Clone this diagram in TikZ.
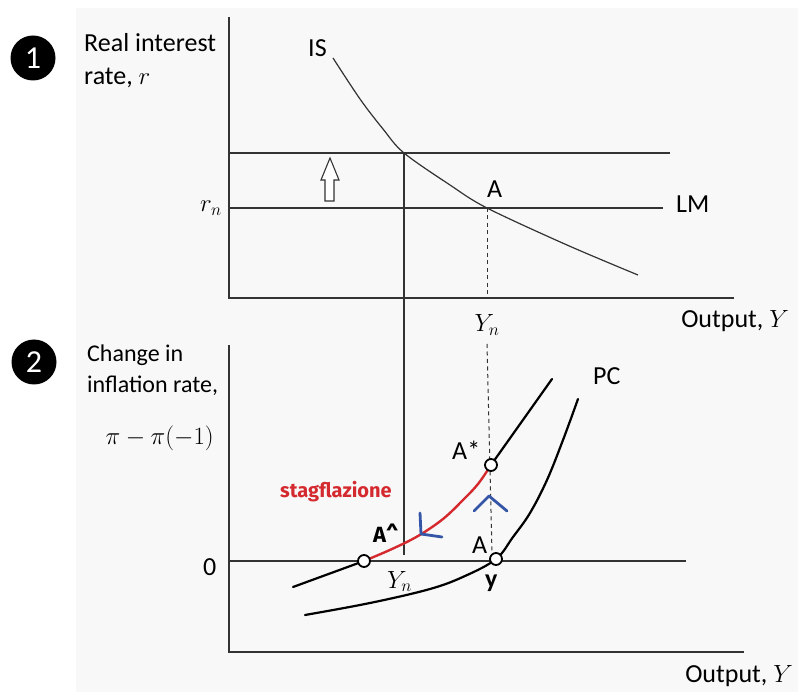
\documentclass[tikz,border=0pt]{standalone}
\usepackage{fontspec}
\setmainfont{Carlito}
\newfontfamily\stagfont{Fira Sans}
\definecolor{bggray}{HTML}{F8F8F8}
\definecolor{stagred}{HTML}{D42A2F}
\definecolor{bluech}{HTML}{3556A6}
\definecolor{linegray}{HTML}{333333}
\begin{document}
\begin{tikzpicture}[x=1pt,y=-1pt,
  ax/.style={line width=1.2pt, draw=linegray},
  thin/.style={line width=1.2pt, draw=linegray},
  pc/.style={line width=2.2pt, line cap=round},
  redpc/.style={line width=2.4pt, draw=stagred, line cap=round},
  dsh/.style={line width=1.0pt, draw=linegray, dash pattern=on 4pt off 3.5pt},
  lbl/.style={font=\fontsize{24}{28}\selectfont, inner sep=0pt},
  biglbl/.style={font=\fontsize{26}{30}\selectfont, inner sep=0pt},
  mlbl/.style={font=\fontsize{24}{28}\selectfont, inner sep=0pt},
  dot/.style={circle, draw, fill=white, line width=1.8pt, minimum size=12pt, inner sep=0pt},
  chev/.style={draw=bluech, line width=2.8pt, line cap=round, line join=round},
  numc/.style={circle, fill=black, minimum size=45pt, inner sep=0pt, text=white, font=\fontsize{32}{34}\selectfont}
]
\useasboundingbox (0,0) rectangle (798,692);
\fill[white] (0,0) rectangle (798,692);
\fill[bggray] (76,8) rectangle (798,692);

% numbered markers
\node[numc] (n1) at (33,58) {1};
\node[numc] (n2) at (34,362) {2};

% ---------- top panel ----------
\coordinate (ty) at (229,17);
\coordinate (to) at (229,298);
\coordinate (tx) at (734,298);
\draw[ax] (ty) -- (to) -- (tx);

\node[biglbl, anchor=base west] (rl1) at (84,52) {Real interest};
\node[biglbl, anchor=base west] (rl2) at (84,85) {rate, $r$};

\coordinate (h1l) at (229,153);
\coordinate (h1r) at (670,153);
\draw[thin] (h1l) -- (h1r);
\coordinate (lml) at (229,208);
\coordinate (lmr) at (663,208);
\draw[thin] (lml) -- (lmr);
\node[biglbl, anchor=base west] (lmlab) at (676,213) {LM};
\node[font=\fontsize{26}{30}\selectfont, inner sep=0pt] (rn) at (211,208) {$r_n$};

% IS curve
\draw[thin] plot[smooth, tension=0.55] coordinates {(333,58) (360,99) (383,129) (404,153) (450,185) (487,208) (567,245) (638,275)};
\node[biglbl, anchor=base west] (islab) at (308,57) {IS};
\coordinate (Atop) at (487,208);
\node[biglbl, anchor=base west] (alab) at (487,198) {A};

% hollow up arrow
\draw[line width=1.1pt, draw=linegray, fill=white]
  (325,201) -- (334,201) -- (334,180) -- (339,180) -- (330,158) -- (321,180) -- (325,180) -- cycle;

% verticals
\coordinate (v1t) at (404,153);
\coordinate (v1b) at (404,555);
\draw[thin] (v1t) -- (v1b);
\coordinate (dtb) at (487,298);
\draw[dsh] (Atop) -- (dtb);

\node[mlbl] (yn1) at (487,325) {$Y_n$};
\node[biglbl, anchor=base east] (out1) at (789,328) {Output, $Y$};

% ---------- bottom panel ----------
\coordinate (by) at (229,345);
\coordinate (bo) at (229,652);
\coordinate (bx) at (744,652);
\draw[ax] (by) -- (bo) -- (bx);
\coordinate (zl) at (229,561);
\coordinate (zr) at (686,561);
\draw[ax] (zl) -- (zr);

\node[lbl, anchor=base west] (cl1) at (87,362) {Change in};
\node[lbl, anchor=base west] (cl2) at (87,393) {inflation rate,};
\node[lbl, anchor=base east] (cl3) at (214,445) {$\pi-\pi(-1)$};
\node[biglbl, anchor=base west] (zero) at (203,575) {0};

% dashed from Yn down to A
\coordinate (dbt) at (487,344);
\coordinate (Ab) at (496,559);
\draw[dsh] (dbt) -- (492,553);

% lower PC
\draw[pc] plot[smooth, tension=0.6] coordinates {(305,615) (370,603) (430,589) (465,576) (496,559) (513,537) (530,513) (547,480) (563,440) (578,399)};

% upper PC
\coordinate (Ahat) at (364,561);
\coordinate (Astar) at (491,465);
\coordinate (ul) at (293,587);
\coordinate (ur) at (552,379);
\draw[pc] (ul) -- (Ahat);
\draw[pc] (Astar) -- (ur);
\draw[redpc] plot[smooth, tension=0.6] coordinates {(364,561) (392,549) (418,536) (443,519) (463,500) (478,484) (491,465)};

% points
\node[dot] (pAhat) at (Ahat) {};
\node[dot] (pAstar) at (Astar) {};
\node[dot] (pA) at (Ab) {};

% blue chevrons
\draw[chev] (420,513) -- (421,534) -- (442,537);
\draw[chev] (474,511) -- (489,496) -- (507,511);

% labels
\node[font=\stagfont\bfseries\fontsize{20}{24}\selectfont, text=stagred, inner sep=0pt, anchor=base west] (stag) at (280,497) {stagflazione};
\node[font=\stagfont\bfseries\fontsize{22}{26}\selectfont, inner sep=0pt, anchor=base west] (lAhat) at (373,542) {A\textasciicircum};
\node[biglbl, anchor=base west] (lAstar) at (452,460) {A*};
\node[biglbl, anchor=base west] (lA) at (472,553) {A};
\node[font=\bfseries\fontsize{26}{30}\selectfont, inner sep=0pt, anchor=base west] (ly) at (485,587) {y};
\node[mlbl, anchor=base west] (yn2) at (387,588) {$Y_n$};
\node[biglbl, anchor=base west] (pclab) at (593,385) {PC};
\node[biglbl, anchor=base east] (out2) at (793,682) {Output, $Y$};
\end{tikzpicture}
\end{document}
